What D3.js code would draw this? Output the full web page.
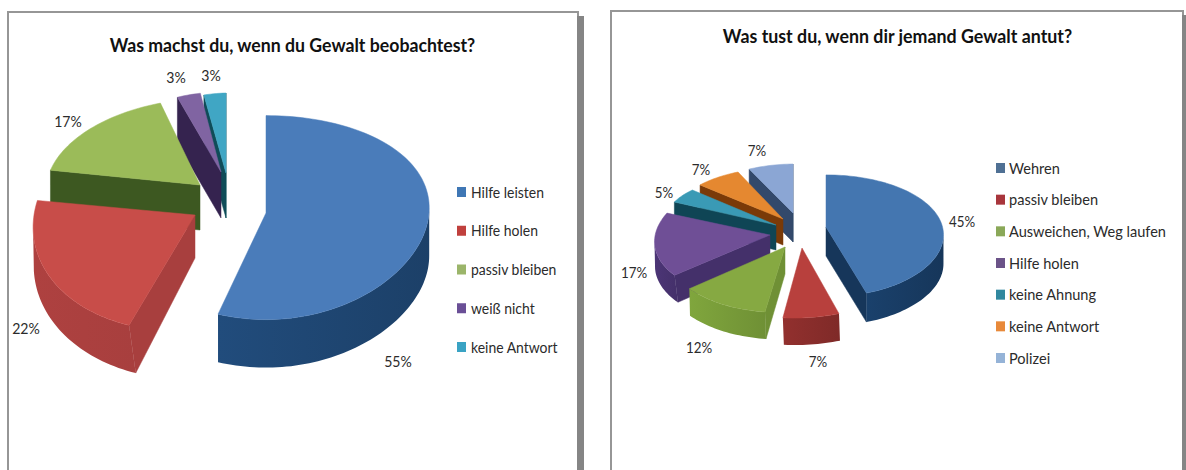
<!DOCTYPE html>
<html><head><meta charset="utf-8">
<script src="https://cdn.jsdelivr.net/npm/d3@7"></script>
<style>html,body{margin:0;padding:0;background:#fff;overflow:hidden}svg{display:block}text{font-family:Lato,"Open Sans",sans-serif;fill:#2b2b2b}</style>
</head><body><svg id="c" width="1186" height="470"></svg>
<script>
const titleA = "Was machst du, wenn du Gewalt beobachtest?";
const categoriesA = ["Hilfe leisten","Hilfe holen","passiv bleiben","weiß nicht","keine Antwort"];
const valuesA = [55,22,17,3,3];
const titleB = "Was tust du, wenn dir jemand Gewalt antut?";
const categoriesB = ["Wehren","passiv bleiben","Ausweichen, Weg laufen","Hilfe holen","keine Ahnung","keine Antwort","Polizei"];
const valuesB = [45,7,12,17,5,7,7];

const topA  = ["#4a7cba","#c84d49","#9bbb59","#8064a2","#40a6c4"];
const wallA = ["#1c4068","#a83f3e","#3d5821","#35234f","#0f4c58"];
const keyA  = ["#3f77b5","#c0403d","#9bb56a","#6a4f96","#3aa3c4"];
const topB  = ["#4476b0","#b8403d","#86a942","#6f4f96","#3a9ab5","#e58830","#8ba6d4"];
const wallB = ["#16365a","#7f2a28","#6f9035","#44306a","#0f4555","#7a3a08","#33496b"];
const keyB  = ["#4f7094","#a8353c","#8aa858","#6b5388","#31889f","#e8893a","#95b3d7"];

// per-slice 3D placement: ax, ay = exploded apex; rx, ry = radii; k, m = shears; p, q = perspective;
// d = depth, e = extra depth toward the front; w = wall lean toward the front; g = wall gradient strength
const layoutA = [
 {ax:266,ay:213,rx:163,ry:102,k:0,m:0,p:-0.05,q:0.045,d:48,e:0,w:0,g:0.5},
 {ax:195,ay:215,rx:161,ry:116,k:-17,m:0,p:0,q:0,d:43,e:5,w:7,g:0.1},
 {ax:200,ay:185,rx:153,ry:86.5,k:-18,m:4,p:0,q:0,d:45,e:0,w:0,g:0},
 {ax:221,ay:172,rx:126,ry:80,k:-3,m:1,p:0,q:0,d:46,e:0,w:0,g:0},
 {ax:226,ay:173,rx:118,ry:80,k:0,m:-3,p:0,q:0,d:45,e:0,w:0,g:0}];
const orderA = [4,3,2,1,0];
const layoutB = [
 {ax:826,ay:227,rx:116.5,ry:61,k:0,m:0,p:0.13,q:0.146,d:29,e:0,w:0,g:0.5},
 {ax:802,ay:248,rx:129,ry:70,k:-3,m:-3,p:0,q:0,d:27,e:0,w:1,g:0.4},
 {ax:785,ay:247,rx:120,ry:65.5,k:-5,m:0,p:0,q:0,d:27,e:0,w:1,g:0.4},
 {ax:770,ay:235,rx:115,ry:62,k:-10.6,m:-1,p:0,q:0,d:27,e:0,w:5,g:0.3},
 {ax:776,ay:225,rx:110,ry:48,k:-1.8,m:5.7,p:0,q:0,d:25,e:0,w:0,g:0},
 {ax:783,ay:219,rx:109,ry:51,k:-1.6,m:2,p:0,q:0,d:26,e:0,w:0,g:0},
 {ax:793,ay:213,rx:103,ry:49,k:0,m:-1,p:0,q:0,d:29,e:0,w:0,g:0}];
const orderB = [6,5,4,3,2,1,0];

const svg = d3.select("#c");
const defs = svg.append("defs");
const line = d3.line();
const pie = d3.pie().sort(null);
let gid = 0;

function project(l, a, r){
  const s = Math.sin(a)*r, c = -Math.cos(a)*r;
  return [l.ax + l.rx*s*(1+l.p*c) + l.k*c, l.ay + l.ry*c*(1+l.q*c) + l.m*s];
}
function drawPie(values, layout, order, tops, walls){
  const arcs = pie(values);
  const g = svg.append("g");
  order.forEach(i=>{
    const a = arcs[i], l = layout[i];
    const n = Math.max(6, Math.ceil((a.endAngle-a.startAngle)/0.03));
    const arcPts = d3.range(n+1).map(j=>project(l, a.startAngle+(a.endAngle-a.startAngle)*j/n, 1));
    const apex = project(l,0,0);
    const down = p=>{ const f = Math.max(0,(p[1]-l.ay)/l.ry); return [p[0]+l.w*f, p[1]+l.d+l.e*f]; };
    const quad = (p,q,fill)=>g.append("path").attr("d",line([p,q,down(q),down(p)])+"Z").attr("fill",fill).attr("stroke",fill).attr("stroke-width",0.5);
    const s0 = arcPts[0], s1 = arcPts[n];
    if (s0[0]<apex[0]) quad(apex,s0,walls[i]);
    if (apex[0]<s1[0]) quad(s1,apex,walls[i]);
    // outer wall: the part of the arc moving leftwards on screen
    const run = arcPts.filter((p,j)=>(j<n && arcPts[j+1][0]<p[0]) || (j>0 && p[0]<arcPts[j-1][0]));
    if(run.length>1){
      const id="w"+(gid++);
      const lg=defs.append("linearGradient").attr("id",id);
      lg.append("stop").attr("offset",0).attr("stop-color",d3.color(walls[i]).brighter(l.g));
      lg.append("stop").attr("offset",1).attr("stop-color",walls[i]);
      g.append("path").attr("d",line(run.concat(run.slice().reverse().map(down)))+"Z").attr("fill","url(#"+id+")");
    }
    g.append("path").attr("d",line([apex].concat(arcPts))+"Z").attr("fill",tops[i]).attr("stroke",tops[i]).attr("stroke-width",0.5);
  });
}
// condensed look of the original face: keep Lato's height, narrow its set width
function narrow(sel, ratio){
  sel.attr("textLength", sel.node().getComputedTextLength()*ratio).attr("lengthAdjust","spacingAndGlyphs");
  return sel;
}
function drawLegend(cats, cols, x, y0, y1, size, gap, ratio){
  const y = d3.scalePoint().domain(cats).range([y0,y1]);
  const g = svg.append("g");
  cats.forEach((c,i)=>{
    g.append("rect").attr("x",x).attr("y",y(c)-5).attr("width",9).attr("height",10).attr("fill",cols[i]);
    narrow(g.append("text").attr("x",x+gap).attr("y",y(c)+5.5).attr("font-size",size).text(c), ratio);
  });
}
function drawLabels(values, pos, size, ratio){
  values.forEach((v,i)=>narrow(svg.append("text").attr("x",pos[i][0]).attr("y",pos[i][1]).attr("text-anchor","middle").attr("font-size",size).text(v+"%"), ratio));
}
function frame(x,y,w,h,bar){
  svg.append("rect").attr("x",x).attr("y",y).attr("width",w).attr("height",h).attr("fill","#fff").attr("stroke","#969696").attr("stroke-width",2);
  svg.append("rect").attr("x",x+w-1).attr("y",y+4).attr("width",bar).attr("height",h).attr("fill","#858585");
}
frame(8,12,570,470,7);
frame(611,11,572,470,5);
narrow(svg.append("text").attr("x",292.5).attr("y",52).attr("text-anchor","middle").attr("font-size",19.5).attr("font-weight",700).style("fill","#111").text(titleA),0.907);
narrow(svg.append("text").attr("x",897.5).attr("y",43).attr("text-anchor","middle").attr("font-size",18.6).attr("font-weight",700).style("fill","#111").text(titleB),0.957);
drawPie(valuesA, layoutA, orderA, topA, wallA);
drawPie(valuesB, layoutB, orderB, topB, wallB);
drawLabels(valuesA, [[398,367],[26,334],[68,127],[176,83],[211,81]], 16, 0.88);
drawLabels(valuesB, [[962,227],[818,367],[699,353],[634,278],[664,198],[701,175],[757,156]], 14.5, 0.92);
drawLegend(categoriesA, keyA, 457, 192, 347, 15.5, 14, 0.9);
drawLegend(categoriesB, keyB, 996, 168, 358, 15, 13, 0.97);
</script></body></html>
